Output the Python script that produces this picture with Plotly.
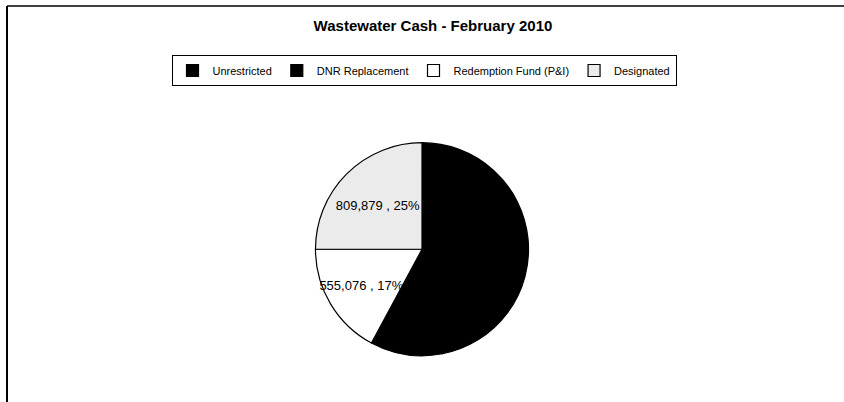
import plotly.graph_objects as go

categories = ["Unrestricted", "DNR Replacement", "Redemption Fund (P&I)", "Designated"]
values = [1520000, 355000, 555076, 809879]
colors = ["#000000", "#000000", "#ffffff", "#ebebeb"]
title_text = "Wastewater Cash - February 2010"

W, H = 844, 402
FONT = "Liberation Sans, Arial, sans-serif"

fig = go.Figure()
fig.add_trace(go.Pie(
    labels=categories,
    values=values,
    sort=False,
    direction="clockwise",
    rotation=0,
    marker=dict(colors=colors, line=dict(color="#000000", width=1.2)),
    texttemplate="%{value:,.0f} , %{percent:.0%}",
    textposition="inside",
    insidetextorientation="horizontal",
    textfont=dict(family=FONT, size=13, color="#000000"),
    hoverinfo="label+value+percent",
    domain=dict(x=[0.2, 0.8], y=[0.115, 0.645]),
    showlegend=True,
))

fig.update_layout(
    width=W, height=H,
    margin=dict(l=0, r=0, t=0, b=0),
    paper_bgcolor="#ffffff",
    plot_bgcolor="#ffffff",
    font=dict(family=FONT, color="#000000"),
    uniformtext=dict(minsize=13, mode="show"),
    title=dict(text="<b>" + title_text + "</b>", x=0.513, xanchor="center",
               y=1 - 26 / H, yanchor="middle",
               font=dict(size=15, family=FONT, color="#000000")),
    legend=dict(orientation="h", x=424 / W, xanchor="center", y=1 - 55 / H, yanchor="top",
                bordercolor="#000000", borderwidth=1, bgcolor="#ffffff",
                font=dict(size=11, family=FONT, color="#000000"),
                traceorder="normal"),
    shapes=[
        dict(type="line", xref="paper", yref="paper", x0=7 / W, x1=1, y0=1 - 6 / H, y1=1 - 6 / H,
             line=dict(color="#000000", width=1.5)),
        dict(type="line", xref="paper", yref="paper", x0=7 / W, x1=7 / W, y0=0, y1=1 - 6 / H,
             line=dict(color="#000000", width=2)),
    ],
)

fig.write_html("out.html", config={"displayModeBar": False},
               post_script="document.body.style.margin='0px';")
